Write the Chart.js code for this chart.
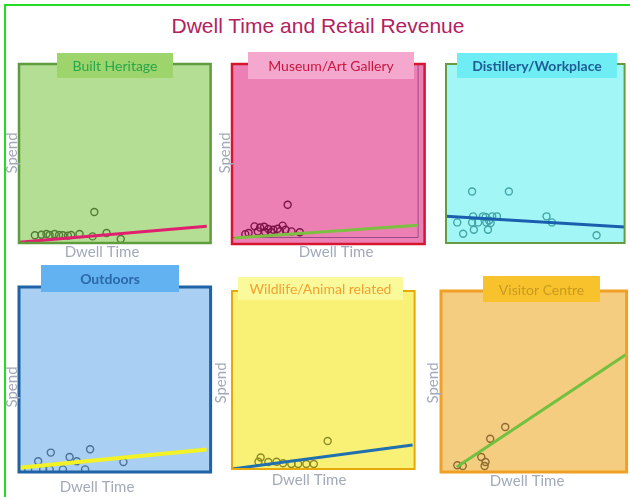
<!DOCTYPE html>
<html>
<head>
<meta charset="utf-8">
<script src="https://cdn.jsdelivr.net/npm/chart.js@4.4.1/dist/chart.umd.min.js"></script>
<style>
  body { margin: 0; background: #fff; }
  #wrap { position: relative; width: 630px; height: 497px; overflow: hidden; background: #fff; }
  #frame { position: absolute; left: 4px; top: 4px; right: -4px; bottom: -4px;
           border-left: 2px solid #22dd22; border-top: 2px solid #22dd22; }
  #heading { position: absolute; left: 0; width: 636px; top: 15px; text-align: center;
             font: 21px "Liberation Sans", Arial, sans-serif; line-height: 21px; color: #b3215f; }
  canvas { position: absolute; }
</style>
</head>
<body>
<div id="wrap">
  <div id="frame"></div>
  <div id="heading">Dwell Time and Retail Revenue</div>
</div>
<script>
// ---------- data (dwell time vs spend, 0-100 on each axis) ----------

const heritageDwell = [39.3, 8.3, 11.7, 14.3, 16.0, 18.6, 20.9, 22.9, 25.5, 27.2, 31.6, 38.4, 45.7, 53.1];
const heritageSpend = [17.3, 4.3, 4.6, 5.0, 4.5, 5.0, 4.5, 4.3, 4.1, 4.5, 5.0, 3.7, 5.6, 2.2];
const heritageFitDwell = [0, 98];
const heritageFitSpend = [0.4, 9.3];

const museumDwell = [28.9, 11.7, 14.6, 16.7, 18.9, 21.5, 23.7, 26.3, 27.8, 30.9, 35.2, 8.6, 6.9, 13.4, 17.2, 20.3, 24.9];
const museumSpend = [21.8, 9.8, 9.2, 9.6, 8.3, 7.9, 8.5, 10.2, 7.9, 7.0, 6.5, 6.1, 5.5, 7.0, 6.7, 6.5, 7.0];
const museumFitDwell = [1.2, 96.6];
const museumFitSpend = [3.3, 10.4];

const distilleryDwell = [14.6, 35.2, 6.3, 9.6, 14.6, 15.2, 15.6, 18.0, 20.7, 22.2, 22.6, 23.5, 24.1, 25.0, 25.9, 28.5, 56.3, 59.3, 84.3];
const distillerySpend = [28.8, 28.8, 11.5, 5.2, 11.5, 14.9, 7.4, 11.5, 14.9, 14.5, 11.5, 7.4, 12.6, 11.2, 14.9, 14.9, 14.9, 11.5, 4.3];
const distilleryFitDwell = [0, 100];
const distilleryFitSpend = [14.9, 8.9];

const outdoorsDwell = [16.6, 37.1, 26.4, 10.0, 30.2, 54.5, 34.5, 16.0, 22.9, 4.8, 12.6];
const outdoorsSpend = [10.5, 12.3, 8.1, 5.8, 5.8, 5.4, 1.4, 1.4, 1.4, 1.4, 1.4];
const outdoorsFitDwell = [0, 97.9];
const outdoorsFitSpend = [2.3, 12.1];

const wildlifeDwell = [52.4, 15.7, 14.5, 19.9, 24.4, 28.0, 32.5, 36.2, 40.7, 44.8];
const wildlifeSpend = [15.7, 6.5, 4.1, 3.9, 4.1, 3.2, 2.8, 2.8, 2.8, 2.8];
const wildlifeFitDwell = [0, 98.9];
const wildlifeFitSpend = [0, 13.5];

const visitorDwell = [34.6, 26.5, 21.7, 24.0, 23.5, 8.8, 11.7];
const visitorSpend = [24.9, 18.4, 8.3, 5.5, 3.3, 3.7, 3.3];
const visitorFitDwell = [8.5, 99.5];
const visitorFitSpend = [2.8, 64.8];

// ---------- panels ----------

const panels = [
  { name: "Built Heritage", dwell: heritageDwell, spend: heritageSpend,
    fitDwell: heritageFitDwell, fitSpend: heritageFitSpend,
    box: [19, 64, 212, 243], tab: [57, 53, 173, 78],
    fill: "#b5de95", border: "#5e9c3e", borderWidth: 2.5, tabFill: "#9dd46c",
    titleColor: "#27a64b", titleFont: "14px Lato",
    pointColor: "#4f7d33", fitColor: "#e0206e", fitWidth: 3,
    spendLabel: [12, 153], dwellLabel: [102, 252] },
  { name: "Museum/Art Gallery", dwell: museumDwell, spend: museumSpend,
    fitDwell: museumFitDwell, fitSpend: museumFitSpend,
    box: [232, 64, 426, 244], tab: [248, 52, 414, 79],
    fill: "#ec80b5", border: "#d4162e", borderWidth: 2.5, tabFill: "#f4a8cd",
    titleColor: "#c8163e", titleFont: "14px Lato",
    pointColor: "#7c1446", fitColor: "#7cc040", fitWidth: 3,
    inner: "#9a4a8a",
    spendLabel: [225, 153], dwellLabel: [336, 252] },
  { name: "Distillery/Workplace", dwell: distilleryDwell, spend: distillerySpend,
    fitDwell: distilleryFitDwell, fitSpend: distilleryFitSpend,
    box: [446, 64, 626, 243], tab: [457, 53, 617, 78],
    fill: "#a2f6f6", border: "#6a9a40", borderWidth: 2, tabFill: "#6eeef4",
    titleColor: "#1e5c96", titleFont: "bold 14px Lato",
    pointColor: "#45a4a6", fitColor: "#1a5fae", fitWidth: 3 },
  { name: "Outdoors", dwell: outdoorsDwell, spend: outdoorsSpend,
    fitDwell: outdoorsFitDwell, fitSpend: outdoorsFitSpend,
    box: [19, 287, 212, 472], tab: [41, 265, 179, 292],
    fill: "#a9cff2", border: "#1f62a6", borderWidth: 3, tabFill: "#62b2f2",
    titleColor: "#2a68a8", titleFont: "bold 14px Lato",
    pointColor: "#4a7296", fitColor: "#f2f224", fitWidth: 4,
    spendLabel: [12, 387], dwellLabel: [97, 487] },
  { name: "Wildlife/Animal related", dwell: wildlifeDwell, spend: wildlifeSpend,
    fitDwell: wildlifeFitDwell, fitSpend: wildlifeFitSpend,
    box: [232, 291, 416, 469], tab: [238, 277, 403, 300],
    fill: "#f9f176", border: "#e6a90a", borderWidth: 2, tabFill: "#fafa9a",
    titleColor: "#f2a030", titleFont: "14px Lato",
    pointColor: "#8c8a22", fitColor: "#2070b0", fitWidth: 3,
    spendLabel: [221, 383], dwellLabel: [309, 480] },
  { name: "Visitor Centre", dwell: visitorDwell, spend: visitorSpend,
    fitDwell: visitorFitDwell, fitSpend: visitorFitSpend,
    box: [441, 291, 628, 472], tab: [483, 276, 600, 302],
    fill: "#f5cd80", border: "#f0a024", borderWidth: 3, tabFill: "#f8c22c",
    titleColor: "#c89a20", titleFont: "14px Lato",
    pointColor: "#8c6a30", fitColor: "#72c040", fitWidth: 3,
    spendLabel: [433, 383], dwellLabel: [527, 481] }
];

// box, tab, title and axis names around each plot area
const panelFrame = {
  id: "panelFrame",
  beforeDatasetsDraw(chart, args, opts) {
    const a = chart.chartArea;
    const ctx = chart.ctx;
    ctx.save();
    ctx.fillStyle = opts.fill;
    ctx.fillRect(a.left, a.top, a.right - a.left, a.bottom - a.top);
    if (opts.inner) {
      ctx.strokeStyle = opts.inner;
      ctx.lineWidth = 1;
      ctx.beginPath();
      ctx.moveTo(a.left, a.bottom - 6.5);
      ctx.lineTo(a.right - 6.5, a.bottom - 6.5);
      ctx.lineTo(a.right - 6.5, a.top);
      ctx.stroke();
    }
    ctx.restore();
  },
  afterDatasetsDraw(chart, args, opts) {
    const a = chart.chartArea;
    const ctx = chart.ctx;
    const ox = opts.origin[0], oy = opts.origin[1];
    ctx.save();
    ctx.strokeStyle = opts.border;
    ctx.lineWidth = opts.borderWidth;
    ctx.strokeRect(a.left, a.top, a.right - a.left, a.bottom - a.top);

    const t = opts.tab;
    ctx.fillStyle = opts.tabFill;
    ctx.fillRect(t[0] - ox, t[1] - oy, t[2] - t[0], t[3] - t[1]);
    ctx.fillStyle = opts.titleColor;
    ctx.font = opts.titleFont;
    ctx.textAlign = "center";
    ctx.textBaseline = "middle";
    ctx.fillText(opts.name, (t[0] + t[2]) / 2 - ox, (t[1] + t[3]) / 2 - oy + 1);

    ctx.fillStyle = "#a2a9b8";
    ctx.font = "15px Lato";
    if (opts.dwellLabel) {
      ctx.fillText("Dwell Time", opts.dwellLabel[0] - ox, opts.dwellLabel[1] - oy);
    }
    if (opts.spendLabel) {
      ctx.translate(opts.spendLabel[0] - ox, opts.spendLabel[1] - oy);
      ctx.rotate(-Math.PI / 2);
      ctx.fillText("Spend", 0, 0);
    }
    ctx.restore();
  }
};

const wrap = document.getElementById("wrap");

panels.forEach(p => {
  const [bl, bt, br, bb] = p.box;
  const left = Math.max(0, bl - 20);
  const top = p.tab[1] - 2;
  const right = Math.min(632, br + 4);
  const bottom = bb + 24;

  const canvas = document.createElement("canvas");
  canvas.width = right - left;
  canvas.height = bottom - top;
  canvas.style.left = left + "px";
  canvas.style.top = top + "px";
  wrap.appendChild(canvas);

  new Chart(canvas, {
    type: "scatter",
    data: {
      datasets: [
        {
          type: "line",
          data: p.fitDwell.map((x, i) => ({ x, y: p.fitSpend[i] })),
          borderColor: p.fitColor,
          borderWidth: p.fitWidth,
          pointRadius: 0,
          order: 0
        },
        {
          data: p.dwell.map((x, i) => ({ x, y: p.spend[i] })),
          pointRadius: 3.5,
          pointBorderWidth: 1.4,
          borderColor: p.pointColor,
          backgroundColor: "rgba(0,0,0,0)",
          order: 1
        }
      ]
    },
    options: {
      responsive: false,
      animation: false,
      devicePixelRatio: 1,
      layout: {
        padding: { left: bl - left, top: bt - top, right: right - br, bottom: bottom - bb }
      },
      scales: {
        x: { type: "linear", min: 0, max: 100, display: false },
        y: { type: "linear", min: 0, max: 100, display: false }
      },
      plugins: {
        legend: { display: false },
        tooltip: { enabled: false },
        panelFrame: { ...p, origin: [left, top] }
      }
    },
    plugins: [panelFrame]
  });
});
</script>
</body>
</html>
